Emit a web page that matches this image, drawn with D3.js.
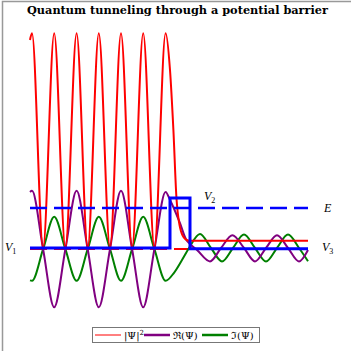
<!DOCTYPE html>
<html>
<head>
<meta charset="utf-8">
<script src="https://d3js.org/d3.v7.min.js"></script>
<style>
    body { margin: 0; background: #fff; }
    svg { display: block; }
</style>
</head>
<body>
<div id="vis"></div>
<script>
//static size of the picture
const width = 351
const height = 351

//potential: left level, barrier height, right level and the barrier edges
const barrierEdges = [7, 8]
const potentialLevels = [0, 1.25, -0.02]
const energy = 1
const xEnd = 13.9

//|psi|^2 (x, value)
const probability = [
    [0, 5.2], [0.1, 5.37], [0.655, 0], [1.21, 5.37], [1.77, 0], [2.33, 5.37], [2.885, 0],
    [3.44, 5.37], [4.0, 0], [4.55, 5.37], [5.105, 0], [5.66, 5.37], [6.22, 0], [6.78, 5.37],
    [7.0, 4.45], [7.17, 2.95], [7.33, 1.2], [7.58, 0.37], [7.83, 0.2], [8.0, 0.18], [13.9, 0.18]
]

//real part
const realPart = [
    [0, 1.40], [0.1, 1.43], [0.655, -0.03], [1.21, -1.48], [1.77, -0.03], [2.33, 1.43],
    [2.885, -0.03], [3.44, -1.48], [4.0, -0.03], [4.55, 1.43], [5.105, -0.03], [5.66, -1.48],
    [6.22, -0.03], [6.78, 1.40], [7.0, 1.2], [7.5, 0.62], [7.8, 0.22], [8.0, 0.1], [8.35, -0.05],
    [9.0, -0.335], [9.55, 0], [10.12, 0.32], [10.7, 0], [11.25, -0.335], [11.8, 0],
    [12.35, 0.32], [12.9, 0], [13.45, -0.335], [13.9, -0.05]
]

//imaginary part
const imagPart = [
    [0, -0.81], [0.1, -0.82], [0.655, -0.03], [1.21, 0.78], [1.77, -0.03], [2.33, -0.82],
    [2.885, -0.03], [3.44, 0.78], [4.0, -0.03], [4.55, -0.82], [5.105, -0.03], [5.66, 0.78],
    [6.22, -0.03], [6.78, -0.82], [7.2, -0.62], [7.6, -0.3], [7.95, 0], [8.5, 0.35],
    [9.05, 0], [9.6, -0.335], [10.15, 0], [10.7, 0.335], [11.25, 0], [11.8, -0.335],
    [12.35, 0], [12.9, 0.335], [13.45, 0], [13.9, -0.33]
]

//legend entries
const legendNames = ['|Ψ|', 'ℜ(Ψ)', 'ℑ(Ψ)']
const legendColors = ['#ff0000', '#800080', '#008000']

const svg = d3.select('#vis')
    .append('svg')
    .attr('width', width)
    .attr('height', height)

//scales
const x = d3.scaleLinear()
    .domain([0, xEnd])
    .range([30, 308])

const y = d3.scaleLinear()
    .domain([-1.6, 5.5])
    .range([312, 28])

//frame lines at the left and top
svg.append('path')
    .attr('d', `M2.5,${height} V1.5 H${width}`)
    .attr('fill', 'none')
    .attr('stroke', '#999')
    .attr('stroke-width', 1.5)

//title
svg.append('text')
    .attr('x', 177.5)
    .attr('y', 14)
    .attr('text-anchor', 'middle')
    .attr('font-family', 'DejaVu Serif')
    .attr('font-weight', 'bold')
    .attr('font-size', 11)
    .attr('textLength', 301)
    .attr('lengthAdjust', 'spacingAndGlyphs')
    .text('Quantum tunneling through a potential barrier')

const line = d3.line()
    .x(d => x(d[0]))
    .y(d => y(d[1]))
    .curve(d3.curveMonotoneX)

//red dashed zero line under the wave
svg.append('line')
    .attr('x1', x(0))
    .attr('x2', x(barrierEdges[1] - 0.1))
    .attr('y1', y(-0.025))
    .attr('y2', y(-0.025))
    .attr('stroke', '#ff0000')
    .attr('stroke-width', 2)
    .attr('stroke-dasharray', '17,7')

//the three wave curves
svg.append('path')
    .datum(imagPart)
    .attr('d', line)
    .attr('fill', 'none')
    .attr('stroke', legendColors[2])
    .attr('stroke-width', 2)

svg.append('path')
    .datum(realPart)
    .attr('d', line)
    .attr('fill', 'none')
    .attr('stroke', legendColors[1])
    .attr('stroke-width', 2)

svg.append('path')
    .datum(probability)
    .attr('d', line)
    .attr('fill', 'none')
    .attr('stroke', legendColors[0])
    .attr('stroke-width', 2)

//energy level, drawn over the waves
svg.append('line')
    .attr('x1', x(0))
    .attr('x2', x(xEnd))
    .attr('y1', y(energy))
    .attr('y2', y(energy))
    .attr('stroke', '#0000ff')
    .attr('stroke-width', 2.5)
    .attr('stroke-dasharray', '17,7')

//potential as a step line
const potential = [
    [0, potentialLevels[0]],
    [barrierEdges[0], potentialLevels[1]],
    [barrierEdges[1], potentialLevels[2]],
    [xEnd, potentialLevels[2]]
]
svg.append('path')
    .datum(potential)
    .attr('d', d3.line().x(d => x(d[0])).y(d => y(d[1])).curve(d3.curveStepAfter))
    .attr('fill', 'none')
    .attr('stroke', '#0000ff')
    .attr('stroke-width', 3)

//labels V1, V2, E, V3
function label(px, py, main, sub) {
    const t = svg.append('text')
        .attr('x', px)
        .attr('y', py)
        .attr('font-family', 'Liberation Serif')
        .attr('font-style', 'italic')
        .attr('font-size', 12)
        .text(main)
    if (sub) {
        t.append('tspan')
            .attr('dy', 2.5)
            .attr('font-size', 8)
            .attr('font-style', 'normal')
            .text(sub)
    }
}
label(5, 251, 'V', '1')
label(204, 200, 'V', '2')
label(324, 212, 'E')
label(322, 251, 'V', '3')

//legend
svg.append('rect')
    .attr('x', 92.5)
    .attr('y', 327.5)
    .attr('width', 167)
    .attr('height', 15)
    .attr('fill', '#fff')
    .attr('stroke', '#777')
    .attr('stroke-width', 1)

const legendX = [95, 144, 202]
legendNames.forEach((name, i) => {
    svg.append('line')
        .attr('x1', legendX[i])
        .attr('x2', legendX[i] + 26)
        .attr('y1', 335)
        .attr('y2', 335)
        .attr('stroke', legendColors[i])
        .attr('stroke-width', i === 0 ? 1 : 2.5)
    const t = svg.append('text')
        .attr('x', legendX[i] + 29)
        .attr('y', 339)
        .attr('font-family', 'DejaVu Serif')
        .attr('font-size', 10)
        .text(name)
    if (i === 0) {
        t.append('tspan')
            .attr('dy', -4)
            .attr('font-size', 7)
            .text('2')
    }
})
</script>
</body>
</html>
